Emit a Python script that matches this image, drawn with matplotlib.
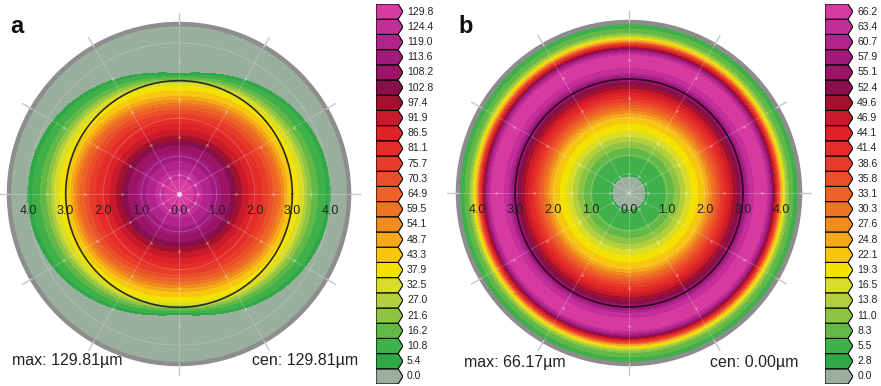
import numpy as np
import matplotlib
matplotlib.use("Agg")
import matplotlib.pyplot as plt
from matplotlib.patches import Polygon
from matplotlib import transforms

plt.rcParams['font.family'] = ['Liberation Sans', 'DejaVu Sans']

# ---------------- data ----------------
levels_a = [0.0, 5.4, 10.8, 16.2, 21.6, 27.0, 32.5, 37.9, 43.3, 48.7, 54.1, 59.5,
            64.9, 70.3, 75.7, 81.1, 86.5, 91.9, 97.4, 102.8, 108.2, 113.6, 119.0,
            124.4, 129.8]
levels_b = [0.0, 2.8, 5.5, 8.3, 11.0, 13.8, 16.5, 19.3, 22.1, 24.8, 27.6, 30.3,
            33.1, 35.8, 38.6, 41.4, 44.1, 46.9, 49.6, 52.4, 55.1, 57.9, 60.7,
            63.4, 66.2]
level_colors = ['#9aaf9e', '#30a848', '#3fb04a', '#62b948', '#8ec446', '#b2cf3e',
                '#d8dc2a', '#f3e200', '#f6c70e', '#f4a81c', '#f08c1e', '#ee7424',
                '#ec6228', '#ea4e2a', '#e83c2a', '#e42c28', '#dc2428', '#c81a2c',
                '#a0122e', '#880e4c', '#9c1466', '#a01a7c', '#b0248c', '#c42e98',
                '#d63a9e']

# panel a: height values with the radius at which they occur along the
# horizontal and the vertical meridian
values_a = [129.8, 128.5, 124, 113, 104, 97, 85, 75, 62, 54, 44, 38, 32, 24, 16,
            10, 6, 0, 0]
radius_h_a = [0.0, 0.3, 0.5, 1.0, 1.4, 1.57, 1.95, 2.3, 2.6, 2.72, 2.88, 3.05,
              3.25, 3.38, 3.55, 3.8, 3.96, 4.02, 4.5]
radius_v_a = [0.0, 0.3, 0.5, 1.0, 1.3, 1.45, 1.8, 2.05, 2.3, 2.42, 2.6, 2.8,
              2.9, 2.96, 3.03, 3.1, 3.16, 3.2, 4.5]

# panel b: rotationally symmetric radial profile
radius_b = [0.0, 0.44, 0.5, 0.8, 1.0, 1.2, 1.4, 1.6, 1.8, 2.0, 2.15, 2.3, 2.45,
            2.6, 2.75, 2.9, 3.0, 3.1, 3.2, 3.4, 3.6, 3.7, 3.78, 3.86, 3.94,
            4.02, 4.1, 4.2, 4.35, 4.5]
profile_b = [0, 0, 4, 5.5, 7, 9.5, 13, 17, 20, 23, 27, 33, 38, 43, 48, 52, 55,
             58.5, 63, 66.2, 65, 60, 52, 43, 32, 21, 14, 9, 6, 5]

axis_tick_r = [4, 3, 2, 1, 0, 1, 2, 3, 4]
axis_tick_side = [-1, -1, -1, -1, 0, 1, 1, 1, 1]
axis_tick_labels = ['4.0', '3.0', '2.0', '1.0', '0.0', '1.0', '2.0', '3.0', '4.0']

max_texts = ['max: 129.81\u00b5m', 'max: 66.17\u00b5m']
cen_texts = ['cen: 129.81\u00b5m', 'cen: 0.00\u00b5m']
panel_letters = ['a', 'b']

# ---------------- layout ----------------
W, H = 881, 386
fig = plt.figure(figsize=(W / 100, H / 100), dpi=100)


def px_axes(x0, y0, w, h, **kw):
    return fig.add_axes([x0 / W, 1 - (y0 + h) / H, w / W, h / H], **kw)


RMAX = 4.5


def bounds(levels):
    lv = np.asarray(levels)
    mids = (lv[:-1] + lv[1:]) / 2
    return np.concatenate([[-1.0], mids, [lv[-1] * 2]])


def setup_polar(ax, circle_color):
    ax.set_theta_zero_location('E')
    ax.set_ylim(0, RMAX)
    ax.set_xticks([])
    ax.set_yticks([])
    ax.grid(False)
    ax.spines['polar'].set_color('#8d8d8d')
    ax.spines['polar'].set_linewidth(3.2)
    full = np.linspace(0, 2 * np.pi, 361)
    for a in np.deg2rad(np.arange(0, 360, 30)):
        ax.plot([a, a], [0, RMAX], color='white', alpha=0.22, lw=0.7, zorder=3)
        ax.plot([a, a], [RMAX, RMAX + 0.28], color='#c9c9c9', lw=1.0,
                clip_on=False, zorder=3)
        ax.plot([a] * 4, [0.5, 1.5, 2.5, 3.5], 'o', ms=2.0, color='white',
                alpha=0.3, mec='none', zorder=3)
    for rr in [0.5, 1, 2, 4]:
        ax.plot(full, np.full_like(full, rr), color='white', alpha=0.2, lw=0.7,
                zorder=3)
    ax.plot(full, np.full_like(full, 3.0), color=circle_color, lw=1.2, zorder=4)
    off = transforms.offset_copy(ax.transData, fig=fig, x=0, y=-17, units='dots')
    for r, s, lab in zip(axis_tick_r, axis_tick_side, axis_tick_labels):
        th = np.pi if s < 0 else 0.0
        ax.text(th, r, lab, transform=off, ha='center', va='center',
                fontsize=9, color='#222222', zorder=5)


def filled(ax, T, R, Z, levels):
    cs = ax.contourf(T, R, Z, levels=bounds(levels), colors=level_colors)
    cs.set_edgecolor('face')
    cs.set_linewidth(0.6)
    return cs


theta = np.linspace(0, 2 * np.pi, 361)

# panel a
ax_a = px_axes(9, 24, 340, 340, projection='polar')
w = np.abs(np.cos(theta))[None, :] ** 1.5
Ta = np.tile(theta[None, :], (len(values_a), 1))
Ra = (w * np.asarray(radius_h_a, float)[:, None]
      + (1 - w) * np.asarray(radius_v_a, float)[:, None])
Za = np.tile(np.asarray(values_a, float)[:, None], (1, len(theta)))
filled(ax_a, Ta, Ra, Za, levels_a)
setup_polar(ax_a, '#2a2a22')
ax_a.plot([0], [0], 'o', ms=3.5, color='#f0d8ec', mec='none', zorder=5)

# panel b
ax_b = px_axes(458, 22, 342, 342, projection='polar')
Tb, Rb = np.meshgrid(theta, np.asarray(radius_b, float))
Zb = np.tile(np.asarray(profile_b, float)[:, None], (1, len(theta)))
filled(ax_b, Tb, Rb, Zb, levels_b)
setup_polar(ax_b, '#2a0a22')


# colour bars
def draw_bar(x0, w, levels):
    cax = px_axes(x0, 4, w, 380)
    cax.set_xlim(0, 1)
    cax.set_ylim(0, len(levels))
    cax.axis('off')
    for i, (lv, c) in enumerate(zip(levels, level_colors)):
        poly = Polygon([(0, i), (0.82, i), (1, i + 0.5), (0.82, i + 1), (0, i + 1)],
                       closed=True, facecolor=c, edgecolor='black', lw=0.8)
        cax.add_patch(poly)
        cax.text(1.15, i + 0.5, f'{lv:.1f}', ha='left', va='center',
                 fontsize=7.5, color='#222222', clip_on=False)


draw_bar(376, 27, levels_a)
draw_bar(825, 28, levels_b)

# texts
fig.text(12 / W, 1 - 361 / H, max_texts[0], ha='left', va='center', fontsize=11.5,
         color='#222222')
fig.text(358 / W, 1 - 361 / H, cen_texts[0], ha='right', va='center', fontsize=11.5,
         color='#222222')
fig.text(464 / W, 1 - 362 / H, max_texts[1], ha='left', va='center', fontsize=11.5,
         color='#222222')
fig.text(798 / W, 1 - 362 / H, cen_texts[1], ha='right', va='center', fontsize=11.5,
         color='#222222')
fig.text(10 / W, 1 - 33 / H, panel_letters[0], ha='left', va='baseline',
         fontsize=17, fontweight='bold', color='#111111')
fig.text(458 / W, 1 - 33 / H, panel_letters[1], ha='left', va='baseline',
         fontsize=17, fontweight='bold', color='#111111')

fig.savefig('out.png', dpi=100)
